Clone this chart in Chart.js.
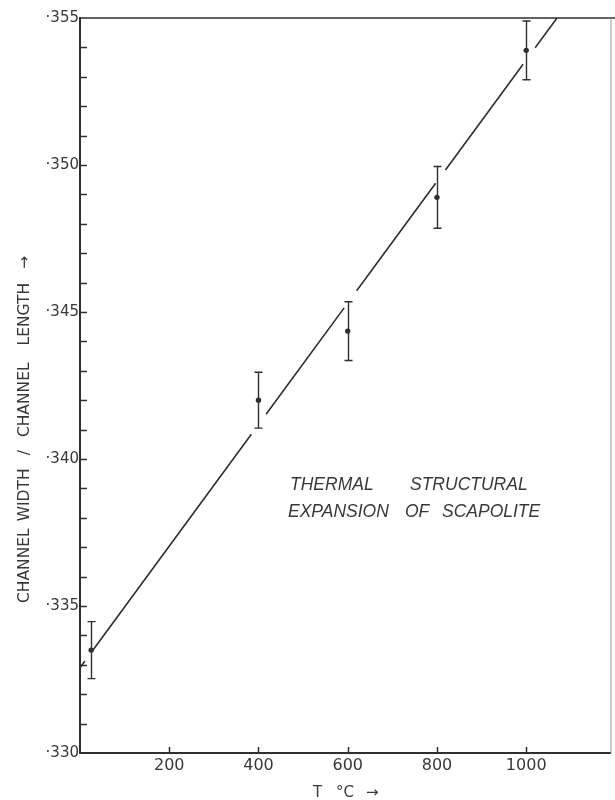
<!DOCTYPE html>
<html>
<head>
<meta charset="utf-8">
<script src="https://cdn.jsdelivr.net/npm/chart.js@4.4.0/dist/chart.umd.min.js"></script>
<style>
html,body{margin:0;padding:0;background:#fff;}
#wrap{width:615px;height:800px;position:relative;}
</style>
</head>
<body>
<div id="wrap"><canvas id="c"></canvas></div>
<script>
// ---- data ----
const temps = [25, 400, 600, 800, 1000];                       // T (°C)
const ratios = [0.3335, 0.3420, 0.34435, 0.3489, 0.3539];     // channel width / channel length
const ratioErr = [0.00097, 0.00095, 0.0010, 0.00105, 0.0010]; // error bar half-heights

// hand-drawn fitted line (null = break in the pen line)
const fitX = [0, 11, 18, 28, 384, 400, 417, 592, 606, 620, 797, 808, 819, 993, 1006, 1020, 1069];
const fitY = [0.33290, 0.33313, null, 0.33348, 0.34084, null, 0.34152, 0.34514, null,
              0.34572, 0.34938, null, 0.34983, 0.35343, null, 0.35399, 0.35500];

const xTickValues = [200, 400, 600, 800, 1000];
const xTickLabels = ['200', '400', '600', '800', '1000'];
const yTickValues = [0.330, 0.335, 0.340, 0.345, 0.350, 0.355];
const yTickLabels = ['·330', '·335', '·340', '·345', '·350', '·355'];
const yMinorStep = 0.001;

const xTitleParts = ['T', '°C', '→'];
const yTitleWords = ['CHANNEL', 'WIDTH', '/', 'CHANNEL', 'LENGTH', '→'];
const noteLine1 = ['THERMAL', 'STRUCTURAL'];
const noteLine2 = ['EXPANSION', 'OF', 'SCAPOLITE'];

// ---- styling ----
const INK = '#2e2e2e';
const TEXT = '#383838';

const framePlugin = {
  id: 'frame',
  beforeDatasetsDraw(chart) {
    const {ctx, chartArea: a, scales: {x, y}} = chart;
    ctx.save();
    ctx.strokeStyle = INK;
    ctx.lineCap = 'butt';
    // left axis
    ctx.lineWidth = 2;
    ctx.beginPath(); ctx.moveTo(a.left, a.top - 1); ctx.lineTo(a.left, a.bottom + 1); ctx.stroke();
    // bottom axis
    ctx.beginPath(); ctx.moveTo(a.left - 1, a.bottom); ctx.lineTo(a.right, a.bottom); ctx.stroke();
    // top line
    ctx.lineWidth = 1.6;
    ctx.beginPath(); ctx.moveTo(a.left, a.top); ctx.lineTo(chart.width, a.top); ctx.stroke();
    // right edge (faint)
    ctx.strokeStyle = '#9a9a9a';
    ctx.lineWidth = 1;
    ctx.beginPath(); ctx.moveTo(a.right, a.top); ctx.lineTo(a.right, a.bottom); ctx.stroke();
    // y ticks (inward)
    ctx.strokeStyle = INK;
    ctx.lineWidth = 1.5;
    const n = Math.round((y.max - y.min) / yMinorStep);
    for (let i = 1; i < n; i++) {
      const py = Math.round(y.getPixelForValue(y.min + i * yMinorStep)) + 0.5;
      ctx.beginPath(); ctx.moveTo(a.left, py); ctx.lineTo(a.left + 7, py); ctx.stroke();
    }
    // x ticks (inward)
    xTickValues.forEach(v => {
      const px = Math.round(x.getPixelForValue(v)) + 0.5;
      ctx.beginPath(); ctx.moveTo(px, a.bottom + 1); ctx.lineTo(px, a.bottom - 6); ctx.stroke();
    });
    ctx.restore();
  },
  afterDatasetsDraw(chart) {
    const {ctx, chartArea: a, scales: {x, y}} = chart;
    ctx.save();
    ctx.strokeStyle = INK;
    ctx.lineWidth = 1.4;
    temps.forEach((t, i) => {
      const px = Math.round(x.getPixelForValue(t)) + 0.5;
      const pt = Math.max(a.top, y.getPixelForValue(ratios[i] + ratioErr[i]));
      const pb = y.getPixelForValue(ratios[i] - ratioErr[i]);
      ctx.beginPath(); ctx.moveTo(px, pt); ctx.lineTo(px, pb); ctx.stroke();
      ctx.beginPath();
      if (pt > a.top + 1) { ctx.moveTo(px - 4, pt); ctx.lineTo(px + 4, pt); }
      ctx.moveTo(px - 4, pb); ctx.lineTo(px + 4, pb);
      ctx.stroke();
    });
    ctx.restore();
  },
  afterDraw(chart) {
    const {ctx} = chart;
    ctx.save();
    ctx.fillStyle = TEXT;
    // x axis title
    ctx.font = '15px "DejaVu Sans"';
    ctx.textBaseline = 'alphabetic';
    ctx.textAlign = 'left';
    const xPos = [313, 336, 366];
    xTitleParts.forEach((s, i) => ctx.fillText(s, xPos[i], 797));
    // y axis title (rotated, reading upward)
    ctx.save();
    ctx.translate(29, 603);
    ctx.rotate(-Math.PI / 2);
    ctx.font = '15.5px "DejaVu Sans"';
    const gaps = [7, 13, 13, 17, 14];
    let cx = 0;
    yTitleWords.forEach((w, i) => {
      ctx.fillText(w, cx, 0);
      cx += ctx.measureText(w).width + (gaps[i] || 0);
    });
    ctx.restore();
    // annotation
    ctx.font = 'italic 17.5px "Liberation Sans"';
    const l1x = [290, 410], l2x = [288, 405, 442];
    noteLine1.forEach((w, i) => ctx.fillText(w, l1x[i], 490));
    noteLine2.forEach((w, i) => ctx.fillText(w, l2x[i], 517));
    ctx.restore();
  }
};

new Chart(document.getElementById('c'), {
  type: 'scatter',
  data: {
    datasets: [
      {
        label: 'fit',
        data: fitX.map((v, i) => ({x: v, y: fitY[i]})),
        showLine: true,
        spanGaps: false,
        borderColor: INK,
        borderWidth: 1.6,
        pointRadius: 0,
        fill: false
      },
      {
        label: 'measured',
        data: temps.map((v, i) => ({x: v, y: ratios[i]})),
        showLine: false,
        pointRadius: 2.7,
        pointBackgroundColor: INK,
        pointBorderColor: INK,
        pointBorderWidth: 0
      }
    ]
  },
  options: {
    responsive: true,
    maintainAspectRatio: false,
    animation: false,
    events: [],
    layout: {padding: {left: 0, top: 18, right: 3, bottom: 0}},
    plugins: {legend: {display: false}, tooltip: {enabled: false}},
    scales: {
      x: {
        type: 'linear',
        min: 0,
        max: 1190,
        afterBuildTicks: s => { s.ticks = xTickValues.map(v => ({value: v})); },
        afterFit: s => { s.height = 47; },
        grid: {display: false, drawTicks: false},
        border: {display: false},
        ticks: {
          padding: 3,
          color: TEXT,
          font: {family: 'DejaVu Sans', size: 16},
          maxRotation: 0,
          autoSkip: false,
          callback: (v) => { const i = xTickValues.indexOf(v); return i >= 0 ? xTickLabels[i] : ''; }
        }
      },
      y: {
        type: 'linear',
        min: 0.330,
        max: 0.355,
        afterBuildTicks: s => { s.ticks = yTickValues.map(v => ({value: v})); },
        afterFit: s => { s.width = 80; },
        grid: {display: false, drawTicks: false},
        border: {display: false},
        ticks: {
          padding: 1,
          color: TEXT,
          font: {family: 'DejaVu Sans', size: 15},
          autoSkip: false,
          callback: (v, idx) => yTickLabels[idx]
        }
      }
    }
  },
  plugins: [framePlugin]
});
</script>
</body>
</html>
